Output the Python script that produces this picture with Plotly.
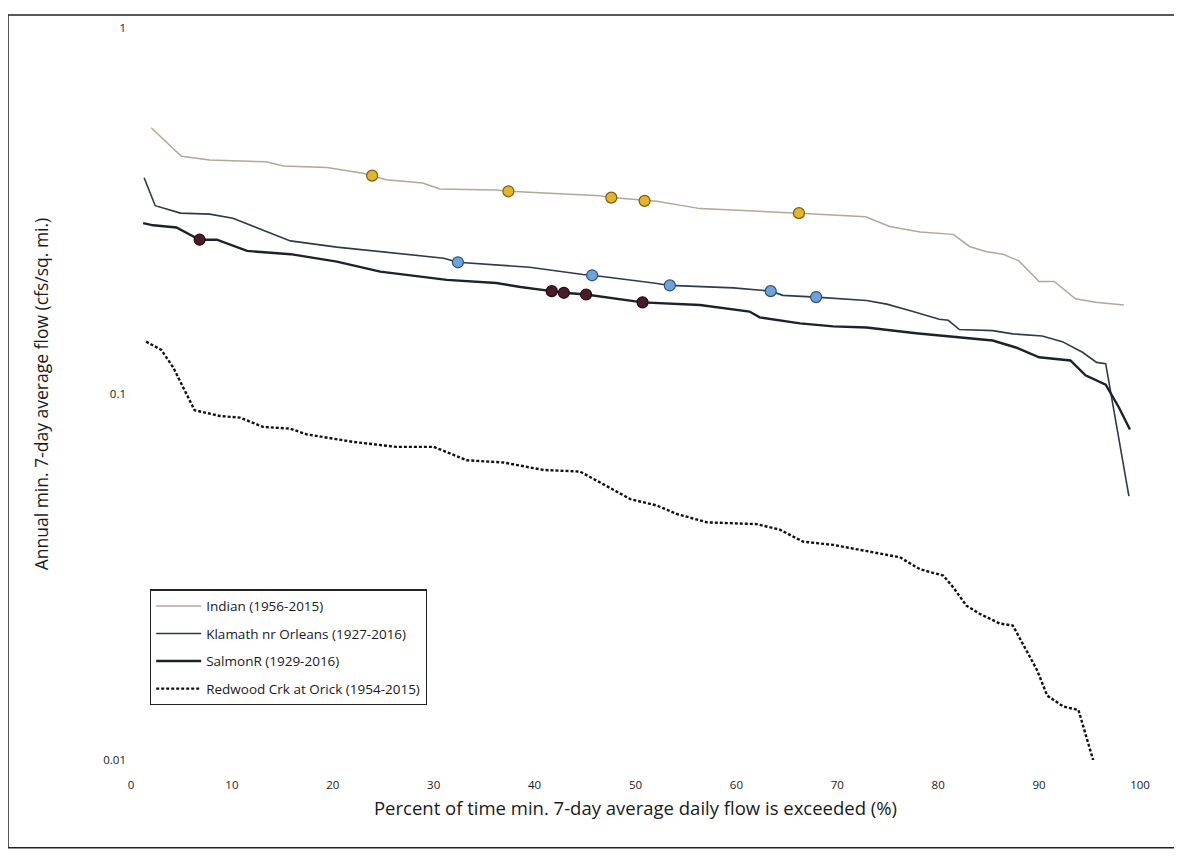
import plotly.graph_objects as go

# ---- data ----
indian_x = [2.0, 5.0, 7.8, 13.4, 15.1, 19.4, 23.0, 23.9, 25.3, 28.9, 30.6, 36.2, 37.4, 38.5, 46.5, 47.6,
            50.9, 52.1, 56.4, 64.6, 66.2, 72.8, 75.2, 78.2, 81.5, 83.1, 84.7, 86.4, 88.0, 90.0, 91.5,
            93.6, 95.6, 98.4]
indian_y = [0.534, 0.446, 0.436, 0.431, 0.420, 0.416, 0.401, 0.395, 0.385, 0.377, 0.363, 0.361, 0.358,
            0.357, 0.348, 0.344, 0.337, 0.336, 0.321, 0.314, 0.312, 0.305, 0.287, 0.277, 0.273, 0.253,
            0.245, 0.241, 0.231, 0.203, 0.203, 0.182, 0.178, 0.175]

klamath_x = [1.3, 2.4, 4.9, 7.8, 10.1, 12.5, 15.8, 20.4, 26.3, 31.0, 32.4, 36.4, 39.5, 44.8, 45.7, 51.8,
             53.4, 59.7, 63.4, 64.6, 67.9, 72.9, 74.9, 77.5, 80.1, 81.0, 82.1, 85.4, 87.4, 90.3, 92.3,
             94.3, 95.7, 96.6, 98.9]
klamath_y = [0.390, 0.327, 0.312, 0.310, 0.302, 0.284, 0.262, 0.252, 0.243, 0.235, 0.229, 0.225, 0.222,
             0.212, 0.211, 0.201, 0.198, 0.195, 0.191, 0.186, 0.184, 0.180, 0.176, 0.168, 0.160, 0.159,
             0.150, 0.149, 0.146, 0.144, 0.139, 0.130, 0.122, 0.121, 0.0526]

salmon_x = [1.2, 2.2, 4.5, 6.8, 8.5, 11.5, 15.8, 20.4, 24.7, 31.3, 36.2, 38.6, 41.7, 42.9, 45.1, 50.7,
            56.4, 61.3, 62.3, 66.3, 69.6, 72.9, 77.8, 82.1, 85.4, 87.7, 90.0, 93.1, 94.6, 96.6, 97.9, 99.0]
salmon_y = [0.293, 0.289, 0.285, 0.264, 0.264, 0.246, 0.241, 0.230, 0.216, 0.205, 0.201, 0.196, 0.191,
            0.189, 0.187, 0.178, 0.175, 0.168, 0.162, 0.156, 0.153, 0.152, 0.1466, 0.143, 0.140, 0.134,
            0.126, 0.1235, 0.1125, 0.106, 0.092, 0.080]

redwood_x = [1.5, 3.0, 4.2, 6.3, 8.8, 10.8, 13.1, 15.8, 17.4, 22.0, 26.3, 30.0, 33.3, 36.9, 40.9, 44.5,
             46.5, 49.5, 52.1, 54.1, 57.1, 62.0, 64.3, 66.6, 69.6, 72.9, 76.2, 78.2, 80.5, 81.5, 82.8,
             84.1, 86.1, 87.4, 88.4, 89.8, 90.8, 92.4, 93.9, 95.4]
redwood_y = [0.139, 0.132, 0.118, 0.0903, 0.0871, 0.0862, 0.0813, 0.0804, 0.0776, 0.0740, 0.0717,
             0.0717, 0.0659, 0.0650, 0.0620, 0.0614, 0.0573, 0.0516, 0.0496, 0.0470, 0.0446, 0.0441,
             0.0426, 0.0395, 0.0387, 0.0373, 0.0358, 0.0332, 0.0319, 0.0296, 0.0264, 0.0251, 0.0236,
             0.0233, 0.0208, 0.0176, 0.0150, 0.0140, 0.0137, 0.0099]

indian_mk_x = [23.9, 37.4, 47.6, 50.9, 66.2]
indian_mk_y = [0.395, 0.358, 0.344, 0.337, 0.312]
klamath_mk_x = [32.4, 45.7, 53.4, 63.4, 67.9]
klamath_mk_y = [0.229, 0.211, 0.198, 0.191, 0.184]
salmon_mk_x = [6.8, 41.7, 42.9, 45.1, 50.7]
salmon_mk_y = [0.264, 0.191, 0.189, 0.187, 0.178]

names = ["Indian (1956-2015)", "Klamath nr Orleans (1927-2016)", "SalmonR (1929-2016)",
         "Redwood Crk at Orick (1954-2015)"]
x_ticks = [0, 10, 20, 30, 40, 50, 60, 70, 80, 90, 100]
y_ticks = [0.01, 0.1, 1]
y_tick_text = ["0.01", "0.1", "1"]

FONT = "'Open Sans', Lato, sans-serif"
TXT = "#1a1a1a"

fig = go.Figure()
fig.add_trace(go.Scatter(x=indian_x, y=indian_y, mode="lines", name=names[0], legendgroup="a",
                         line=dict(color="#b3a797", width=1.5)))
fig.add_trace(go.Scatter(x=klamath_x, y=klamath_y, mode="lines", name=names[1], legendgroup="b",
                         line=dict(color="#2c3a4c", width=1.6)))
fig.add_trace(go.Scatter(x=salmon_x, y=salmon_y, mode="lines", name=names[2], legendgroup="c",
                         line=dict(color="#1c222c", width=2.4)))
fig.add_trace(go.Scatter(x=redwood_x, y=redwood_y, mode="lines", name=names[3], legendgroup="d",
                         line=dict(color="#111111", width=2.4, dash="3px,2px")))

fig.add_trace(go.Scatter(x=indian_mk_x, y=indian_mk_y, mode="markers", showlegend=False,
                         marker=dict(size=11, color="#e3b42c", line=dict(color="#7a5c12", width=1.2))))
fig.add_trace(go.Scatter(x=klamath_mk_x, y=klamath_mk_y, mode="markers", showlegend=False,
                         marker=dict(size=11, color="#6ea3d8", line=dict(color="#2f4f78", width=1.2))))
fig.add_trace(go.Scatter(x=salmon_mk_x, y=salmon_mk_y, mode="markers", showlegend=False,
                         marker=dict(size=11, color="#4a1c26", line=dict(color="#220a10", width=1.2))))

W, H = 1182, 860
OFF = 8  # page body margin
ml, mt = 131 - OFF, 26 - OFF
pw, ph = 1009, 734
mr = W - ml - pw
mb = H - mt - ph


def px2paper_x(px):
    return (px - OFF - ml) / pw


def px2paper_y(py):
    return (mt + ph - (py - OFF)) / ph


fig.update_layout(
    width=W, height=H,
    margin=dict(l=ml, r=mr, t=mt, b=mb, pad=0),
    paper_bgcolor="white", plot_bgcolor="white",
    font=dict(family=FONT, color=TXT),
    xaxis=dict(range=[0, 100], tickvals=x_ticks, showgrid=False, zeroline=False, showline=False,
               ticks="", tickfont=dict(size=11.5, color=TXT), ticklabelstandoff=16,
               title=dict(text="Percent of time min. 7-day average daily flow is exceeded (%)",
                          font=dict(size=18.5, color=TXT), standoff=11)),
    yaxis=dict(type="log", range=[-2, 0], tickvals=y_ticks, ticktext=y_tick_text, showgrid=False,
               zeroline=False, showline=False, ticks="", tickfont=dict(size=11.5, color=TXT),
               ticklabelstandoff=4,
               title=dict(text="Annual min. 7-day average flow (cfs/sq. mi.)",
                          font=dict(size=17.5, color=TXT), standoff=50)),
    legend=dict(x=px2paper_x(150), y=px2paper_y(589), xanchor="left", yanchor="top",
                bgcolor="white", bordercolor="#222222", borderwidth=1.2,
                font=dict(size=13.5, color=TXT), itemwidth=45, tracegroupgap=7,
                traceorder="grouped"),
    shapes=[dict(type="rect", xref="paper", yref="paper",
                 x0=px2paper_x(8), x1=px2paper_x(1179), y0=px2paper_y(848), y1=px2paper_y(13),
                 line=dict(color="#222222", width=1.5), fillcolor="rgba(0,0,0,0)", layer="below")],
)

fig.write_html("out.html")
